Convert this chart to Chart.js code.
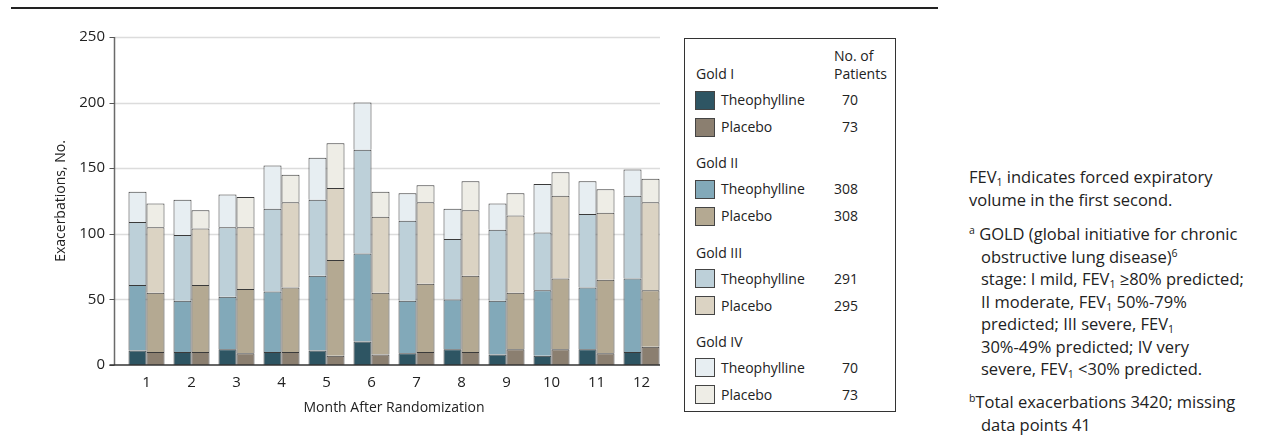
<!DOCTYPE html>
<html>
<head>
<meta charset="utf-8">
<script src="https://cdn.jsdelivr.net/npm/chart.js@4/dist/chart.umd.min.js"></script>
<style>
  html, body { margin: 0; padding: 0; background: #fff; overflow: hidden; }
  body { width: 1265px; height: 435px; position: relative; font-family: "Open Sans", sans-serif; color: #222; }
  .regua { position: absolute; left: 11px; top: 7px; width: 927px; height: 2px; background: #222; }
  #grafico { position: absolute; left: 0; top: 0; }
  .legenda { position: absolute; left: 684px; top: 38px; width: 210px; height: 372px; border: 1px solid #333; font-size: 14px; }
  .legenda div { position: absolute; white-space: nowrap; line-height: 18px; }
  .caixa { width: 18px; height: 17px; border: 1px solid #444; }
  .notas { position: absolute; left: 969px; font-family: "Open Sans", sans-serif; font-size: 16.5px; line-height: 22.5px; color: #222; white-space: nowrap; }
  .ind { padding-left: 12px; text-indent: -12px; }
  sub { font-size: 10.5px; vertical-align: -3px; line-height: 0; }
  sup { font-size: 10.5px; vertical-align: 6px; line-height: 0; }
</style>
</head>
<body>
<div class="regua"></div>
<canvas id="grafico" width="680" height="435"></canvas>
<div class="legenda" id="legenda"></div>
<div class="notas" style="top: 166px;">FEV<sub>1</sub> indicates forced expiratory<br>volume in the first second.</div>
<div class="notas ind" style="top: 223px;"><sup>a</sup> GOLD (global initiative for chronic<br>obstructive lung disease)<sup>6</sup><br>stage: I mild, FEV<sub>1</sub> ≥80% predicted;<br>II moderate, FEV<sub>1</sub> 50%-79%<br>predicted; III severe, FEV<sub>1</sub><br>30%-49% predicted; IV very<br>severe, FEV<sub>1</sub> &lt;30% predicted.</div>
<div class="notas ind" style="top: 391px;"><sup>b</sup>Total exacerbations 3420; missing<br>data points 41</div>

<script>
// meses
var meses = ['1', '2', '3', '4', '5', '6', '7', '8', '9', '10', '11', '12'];

// exacerbacoes por estagio (segmentos empilhados)
var theoGold1 = [11, 10, 12, 10, 11, 18, 9, 12, 8, 7, 12, 10];
var placGold1 = [10, 10, 9, 10, 7, 8, 10, 10, 12, 12, 9, 14];
var theoGold2 = [50, 39, 40, 46, 57, 67, 40, 38, 41, 50, 47, 56];
var placGold2 = [45, 51, 49, 49, 73, 47, 52, 58, 43, 54, 56, 43];
var theoGold3 = [48, 50, 53, 63, 58, 79, 61, 46, 54, 44, 56, 63];
var placGold3 = [50, 43, 47, 65, 55, 58, 62, 50, 59, 63, 51, 67];
var theoGold4 = [23, 27, 25, 33, 32, 36, 21, 23, 20, 37, 25, 20];
var placGold4 = [18, 14, 23, 21, 34, 19, 13, 22, 17, 18, 18, 18];

var ticksY = [0, 50, 100, 150, 200, 250];

// legenda
var grupos = ['Gold I', 'Gold II', 'Gold III', 'Gold IV'];
var pacientesTheo = [70, 308, 291, 70];
var pacientesPlac = [73, 308, 295, 73];

var coresTheo = ['#2e5563', '#82a9b9', '#bdd0d9', '#e7eef2'];
var coresPlac = ['#8b7f70', '#b4a992', '#dbd3c3', '#eeede6'];

var dadosTheo = [theoGold1, theoGold2, theoGold3, theoGold4];
var dadosPlac = [placGold1, placGold2, placGold3, placGold4];

var datasets = [];
for (var i = 0; i < 4; i++) {
    datasets.push({
        label: grupos[i] + ' Theophylline',
        data: dadosTheo[i],
        backgroundColor: coresTheo[i],
        borderColor: '#3a3a3a',
        borderWidth: 1,
        stack: 'theo'
    });
    datasets.push({
        label: grupos[i] + ' Placebo',
        data: dadosPlac[i],
        backgroundColor: coresPlac[i],
        borderColor: '#3a3a3a',
        borderWidth: 1,
        stack: 'plac'
    });
}

var EIXO_X = 114.5;
var FIM_GRADE = 660;

// desenha grade e eixos na posicao do original
var eixos = {
    id: 'eixos',
    beforeDatasetsDraw: function (chart) {
        var ctx = chart.ctx;
        var y = chart.scales.y;
        ctx.save();
        ctx.strokeStyle = '#dcdcdc';
        ctx.lineWidth = 1.5;
        ticksY.forEach(function (v) {
            if (v == 0) return;
            var py = Math.round(y.getPixelForValue(v)) + 0.5;
            ctx.beginPath();
            ctx.moveTo(EIXO_X, py);
            ctx.lineTo(FIM_GRADE, py);
            ctx.stroke();
        });
        ctx.restore();
    },
    afterDatasetsDraw: function (chart) {
        var ctx = chart.ctx;
        var y = chart.scales.y;
        var topo = y.getPixelForValue(250);
        var base = y.getPixelForValue(0);
        ctx.save();
        ctx.strokeStyle = '#6a6a6a';
        ctx.lineWidth = 1.5;
        ctx.beginPath();
        ctx.moveTo(EIXO_X, topo);
        ctx.lineTo(EIXO_X, base);
        ctx.stroke();
        ctx.strokeStyle = '#555';
        ctx.lineWidth = 1;
        ticksY.forEach(function (v) {
            var py = Math.round(y.getPixelForValue(v)) + 0.5;
            ctx.beginPath();
            ctx.moveTo(EIXO_X - 5, py);
            ctx.lineTo(EIXO_X, py);
            ctx.stroke();
        });
        ctx.strokeStyle = '#333';
        ctx.lineWidth = 1.5;
        ctx.beginPath();
        ctx.moveTo(EIXO_X - 5, base);
        ctx.lineTo(FIM_GRADE, base);
        ctx.stroke();
        ctx.restore();
    }
};

new Chart(document.getElementById('grafico'), {
    type: 'bar',
    data: { labels: meses, datasets: datasets },
    options: {
        responsive: false,
        animation: false,
        devicePixelRatio: 1,
        layout: { padding: { top: 37, right: 16, left: 0, bottom: 0 } },
        datasets: { bar: { categoryPercentage: 0.8, barPercentage: 1 } },
        plugins: { legend: { display: false }, tooltip: { enabled: false } },
        scales: {
            x: {
                stacked: true,
                grid: { display: false, drawTicks: false },
                border: { display: false },
                ticks: { color: '#222', font: { family: 'Open Sans', size: 15 }, padding: 9, maxRotation: 0 },
                title: { display: true, text: 'Month After Randomization', color: '#222', font: { family: 'Open Sans', size: 14 }, padding: { top: 0, bottom: 19 } },
                afterFit: function (s) { s.height = 70; }
            },
            y: {
                stacked: true,
                min: 0,
                max: 250,
                grid: { display: false, drawTicks: false },
                border: { display: false },
                afterBuildTicks: function (s) { s.ticks = ticksY.map(function (v) { return { value: v }; }); },
                ticks: { color: '#222', font: { family: 'Open Sans', size: 15 }, padding: 19 },
                title: { display: true, text: 'Exacerbations, No.', color: '#222', font: { family: 'Open Sans', size: 14 }, padding: { top: 53, bottom: 0 } },
                afterFit: function (s) { s.width = 124; }
            }
        }
    },
    plugins: [eixos]
});

// legenda em html
var leg = document.getElementById('legenda');
var html = '<div style="left:149px; top:8px;">No. of</div><div style="left:149px; top:26px;">Patients</div>';
for (var g = 0; g < 4; g++) {
    var topo = 26 + g * 89.3;
    html += '<div style="left:11px; top:' + topo + 'px;">' + grupos[g] + '</div>';
    var linhas = [['Theophylline', coresTheo[g], pacientesTheo[g]], ['Placebo', coresPlac[g], pacientesPlac[g]]];
    for (var k = 0; k < 2; k++) {
        var ty = topo + 26 + k * 27;
        html += '<div class="caixa" style="left:10px; top:' + (ty - 0.5) + 'px; background:' + linhas[k][1] + ';"></div>';
        html += '<div style="left:36px; top:' + ty + 'px;">' + linhas[k][0] + '</div>';
        html += '<div style="left:120px; width:53px; text-align:right; top:' + ty + 'px;">' + linhas[k][2] + '</div>';
    }
}
leg.innerHTML = html;
</script>
</body>
</html>
